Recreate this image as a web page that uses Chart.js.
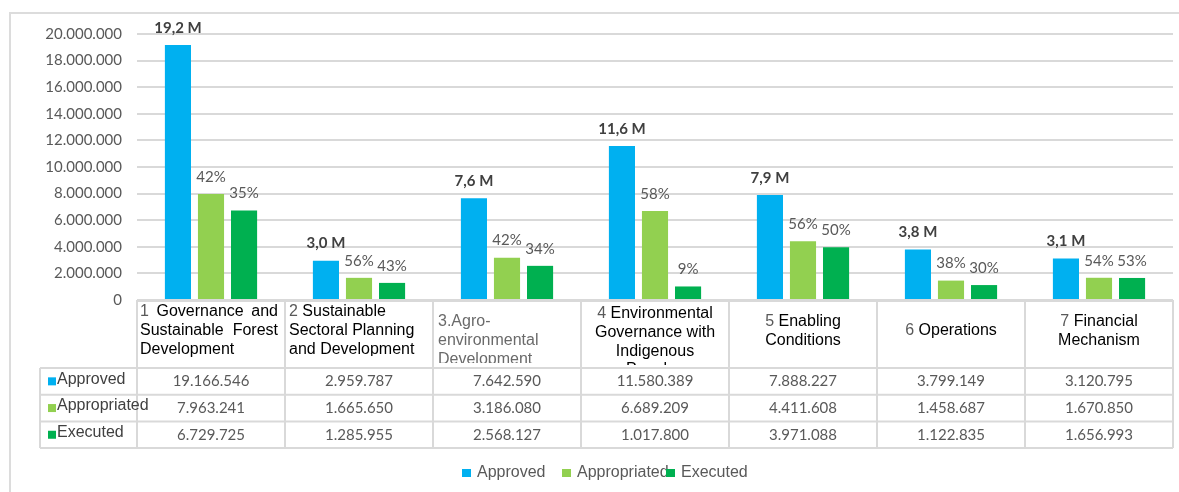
<!DOCTYPE html>
<html>
<head>
<meta charset="utf-8">
<script src="https://cdn.jsdelivr.net/npm/chart.js@4.4.1/dist/chart.umd.min.js"></script>
<style>
html,body{margin:0;padding:0;background:#ffffff;overflow:hidden;}
#wrap{position:absolute;left:0;top:0;width:1179px;height:492px;}
</style>
</head>
<body>
<div id="wrap"><canvas id="chart" width="1179" height="492"></canvas></div>
<script>
// ---------- DATA ----------
const categoryNumbers = ["1", "2", "3.", "4", "5", "6", "7"];
const categoryLines = [
  ["Governance  and", "Sustainable  Forest", "Development"],
  ["Sustainable", "Sectoral Planning", "and Development"],
  ["Agro-", "environmental", "Development"],
  ["Environmental", "Governance with", "Indigenous", "Peoples"],
  ["Enabling", "Conditions"],
  ["Operations"],
  ["Financial", "Mechanism"]
];
const seriesNames = ["Approved", "Appropriated", "Executed"];
const approved     = [19166546, 2959787, 7642590, 11580389, 7888227, 3799149, 3120795];
const appropriated = [7963241, 1665650, 3186080, 6689209, 4411608, 1458687, 1670850];
const executed     = [6729725, 1285955, 2568127, 1017800, 3971088, 1122835, 1656993];
const approvedLabels     = ["19,2 M", "3,0 M", "7,6 M", "11,6 M", "7,9 M", "3,8 M", "3,1 M"];
const appropriatedLabels = ["42%", "56%", "42%", "58%", "56%", "38%", "54%"];
const executedLabels     = ["35%", "43%", "34%", "9%", "50%", "30%", "53%"];
const yMin = 0, yMax = 20000000, yStep = 2000000;

// ---------- STYLE ----------
const colors = ["#00B0F0", "#92D050", "#00B050"];
const greyText = "#595959";
const darkText = "#404040";
const lineGrey = "#d9d9d9";
const numFont = "Lato, 'Open Sans', sans-serif";
const armFont = "'Liberation Sans', Arial, sans-serif";

function fmt(v) {
  return String(v).replace(/\B(?=(\d{3})+(?!\d))/g, ".");
}

const barLabelSets = [approvedLabels, appropriatedLabels, executedLabels];

const tablePlugin = {
  id: "tablePlugin",
  beforeDraw(chart) {
    const ctx = chart.ctx;
    ctx.save();
    ctx.fillStyle = "#ffffff";
    ctx.fillRect(0, 0, chart.width, chart.height);
    ctx.strokeStyle = "#dcdcdc";
    ctx.lineWidth = 2;
    ctx.beginPath();
    ctx.moveTo(10, 492);
    ctx.lineTo(10, 13);
    ctx.lineTo(1179, 13);
    ctx.stroke();
    ctx.restore();
  },
  afterDatasetsDraw(chart) {
    const ctx = chart.ctx;
    ctx.save();
    // bar value labels
    chart.data.datasets.forEach((ds, di) => {
      const meta = chart.getDatasetMeta(di);
      meta.data.forEach((bar, i) => {
        const txt = barLabelSets[di][i];
        ctx.textAlign = "center";
        ctx.textBaseline = "middle";
        if (di === 0) {
          ctx.font = "bold 15px " + numFont;
          ctx.fillStyle = darkText;
        } else {
          ctx.font = "15px " + numFont;
          ctx.fillStyle = greyText;
        }
        ctx.fillText(txt, bar.x, bar.y - 17);
      });
    });

    // data table
    const xs = chart.scales.x;
    const area = chart.chartArea;
    const n = chart.data.labels.length;
    const colW = (area.right - area.left) / n;
    const top = area.bottom;
    const headH = 68, rowH = 26.7;
    const rowTops = [top + headH, top + headH + rowH, top + headH + 2 * rowH];
    const bottom = top + headH + 3 * rowH;
    const leftX = 40;

    ctx.strokeStyle = lineGrey;
    ctx.lineWidth = 2;
    ctx.beginPath();
    ctx.moveTo(area.left, top + 1); ctx.lineTo(area.right, top + 1);
    rowTops.forEach(y => { ctx.moveTo(leftX, y); ctx.lineTo(area.right, y); });
    ctx.moveTo(leftX, bottom); ctx.lineTo(area.right, bottom);
    ctx.moveTo(leftX, rowTops[0]); ctx.lineTo(leftX, bottom);
    for (let i = 0; i <= n; i++) {
      const x = i === n ? area.right : xs.getPixelForValue(i) - colW / 2;
      ctx.moveTo(x, top); ctx.lineTo(x, bottom);
    }
    ctx.stroke();

    // header cells
    const aligns = ["justify", "left", "left", "center", "center", "center", "center"];
    const firstY = [11.5, 11.5, 21.5, 13.5, 21.5, 30.5, 21.5];
    const clipBottom = [67, 56, 63, 65, 67, 67, 67];
    const wordColor = ["#000000", "#000000", "#6a6a6a", "#000000", "#000000", "#000000", "#000000"];
    const lh = 18.8;
    ctx.font = "16px " + armFont;
    ctx.textBaseline = "middle";
    for (let i = 0; i < n; i++) {
      const cx = xs.getPixelForValue(i);
      const x0 = cx - colW / 2;
      ctx.save();
      ctx.beginPath();
      ctx.rect(x0, top + 2, colW, clipBottom[i] - 2);
      ctx.clip();
      const lines = categoryLines[i];
      const numCol = i === 2 ? wordColor[i] : greyText;
      lines.forEach((line, li) => {
        const y = top + firstY[i] + li * lh;
        const prefix = li === 0 ? categoryNumbers[i] + (categoryNumbers[i].endsWith(".") ? "" : " ") : "";
        const full = prefix + line;
        const al = aligns[i];
        if (al === "center") {
          const w = ctx.measureText(full).width;
          let x = cx - w / 2;
          ctx.textAlign = "left";
          if (prefix) { ctx.fillStyle = numCol; ctx.fillText(prefix, x, y); x += ctx.measureText(prefix).width; }
          ctx.fillStyle = wordColor[i]; ctx.fillText(line, x, y);
        } else if (al === "left") {
          let x = x0 + (i === 1 ? 4 : 5);
          ctx.textAlign = "left";
          if (prefix) { ctx.fillStyle = numCol; ctx.fillText(prefix, x, y); x += ctx.measureText(prefix).width; }
          ctx.fillStyle = wordColor[i]; ctx.fillText(line, x, y);
        } else {
          const xl = x0 + 3, xr = x0 + colW - 7;
          const words = (prefix + line).split(/\s+/);
          ctx.textAlign = "left";
          if (li < lines.length - 1 && words.length > 1) {
            const tw = words.reduce((s, w) => s + ctx.measureText(w).width, 0);
            const gap = (xr - xl - tw) / (words.length - 1);
            let x = xl;
            words.forEach((w, wi) => {
              ctx.fillStyle = (li === 0 && wi === 0) ? numCol : wordColor[i];
              ctx.fillText(w, x, y);
              x += ctx.measureText(w).width + gap;
            });
          } else {
            ctx.fillStyle = wordColor[i];
            ctx.fillText(line, xl, y);
          }
        }
      });
      ctx.restore();
    }

    // data rows
    const rows = [approved, appropriated, executed];
    rows.forEach((vals, ri) => {
      const yc = rowTops[ri] + rowH / 2;
      ctx.fillStyle = colors[ri];
      ctx.fillRect(48, yc - 4, 8, 8);
      ctx.font = "16px " + armFont;
      ctx.fillStyle = darkText;
      ctx.textAlign = "left";
      ctx.textBaseline = "middle";
      ctx.fillText(seriesNames[ri], 57, yc - 2);
      ctx.font = "15px " + numFont;
      ctx.fillStyle = greyText;
      ctx.textAlign = "center";
      vals.forEach((v, i) => {
        ctx.fillText(fmt(v), xs.getPixelForValue(i), yc);
      });
    });

    // legend
    const legendX = [462, 562, 666];
    ctx.font = "16px " + armFont;
    ctx.textAlign = "left";
    ctx.textBaseline = "middle";
    seriesNames.forEach((name, i) => {
      ctx.fillStyle = colors[i];
      ctx.fillRect(legendX[i], 469, 9, 8);
      ctx.fillStyle = greyText;
      ctx.fillText(name, legendX[i] + 15, 473);
    });
    ctx.restore();
  }
};

const ctx = document.getElementById("chart").getContext("2d");
new Chart(ctx, {
  type: "bar",
  data: {
    labels: categoryLines.map((l, i) => categoryNumbers[i] + " " + l.join(" ")),
    datasets: [
      { label: seriesNames[0], data: approved, backgroundColor: colors[0] },
      { label: seriesNames[1], data: appropriated, backgroundColor: colors[1] },
      { label: seriesNames[2], data: executed, backgroundColor: colors[2] }
    ]
  },
  options: {
    responsive: false,
    animation: false,
    devicePixelRatio: 1,
    categoryPercentage: 0.67,
    barPercentage: 0.79,
    layout: { padding: { top: 34, right: 6, bottom: 0, left: 0 } },
    plugins: {
      legend: { display: false },
      tooltip: { enabled: false }
    },
    scales: {
      x: {
        grid: { display: false },
        border: { display: false },
        ticks: { display: false },
        afterFit(scale) { scale.height = 192; }
      },
      y: {
        min: yMin,
        max: yMax,
        ticks: {
          stepSize: yStep,
          color: greyText,
          padding: 15,
          font: { family: numFont, size: 15 },
          callback: (v) => fmt(v)
        },
        grid: { color: lineGrey, lineWidth: 2, drawTicks: false },
        border: { display: false },
        afterFit(scale) { scale.width = 137; }
      }
    }
  },
  plugins: [tablePlugin]
});
</script>
</body>
</html>
